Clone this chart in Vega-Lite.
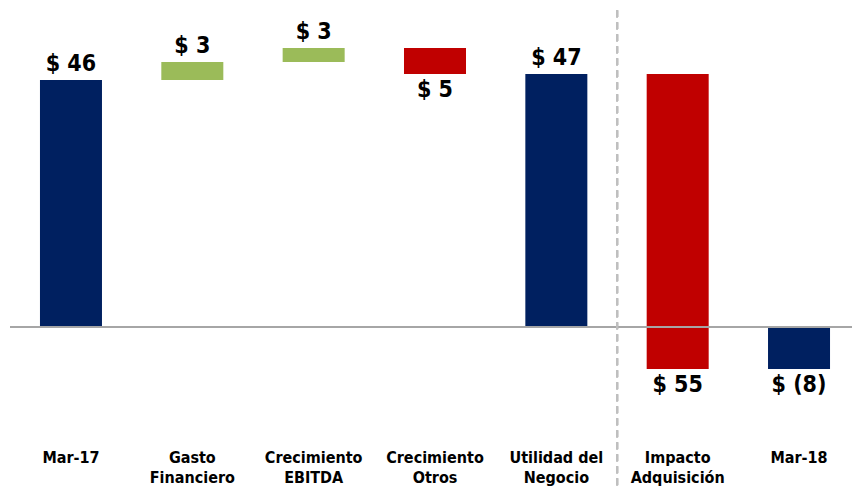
{
  "$schema": "https://vega.github.io/schema/vega-lite/v6.json",
  "width": 842,
  "height": 440,
  "padding": {"left": 10, "top": 0, "right": 0, "bottom": 48},
  "autosize": {"type": "none"},
  "background": "white",
  "config": {"view": {"stroke": null}, "font": "DejaVu Sans Condensed"},
  "data": {
    "values": [
      {"cat": "Mar-17", "start": 0, "end": 46, "kind": "total", "label": "$ 46"},
      {"cat": "Gasto Financiero", "start": 46, "end": 49.35, "kind": "up", "label": "$ 3"},
      {"cat": "Crecimiento EBITDA", "start": 49.35, "end": 51.96, "kind": "up", "label": "$ 3"},
      {"cat": "Crecimiento Otros", "start": 51.96, "end": 47.1, "kind": "down", "label": "$ 5"},
      {"cat": "Utilidad del Negocio", "start": 0, "end": 47.1, "kind": "total", "label": "$ 47"},
      {"cat": "Impacto Adquisición", "start": 47.1, "end": -7.82, "kind": "down", "label": "$ 55"},
      {"cat": "Mar-18", "start": 0, "end": -7.82, "kind": "total", "label": "$ (8)"}
    ]
  },
  "layer": [
    {
      "mark": {"type": "bar"},
      "encoding": {
        "x": {
          "field": "cat",
          "type": "nominal",
          "sort": null,
          "scale": {"range": [0, 850], "paddingInner": 0.489, "paddingOuter": 0.247},
          "axis": {
            "title": null,
            "domain": false,
            "ticks": false,
            "labelAngle": 0,
            "labelFont": "DejaVu Sans Condensed",
            "labelFontWeight": "bold",
            "labelFontSize": 16,
            "labelColor": "#000000",
            "labelPadding": 9,
            "labelLineHeight": 20,
            "labelBaseline": "top",
            "labelExpr": "datum.value == 'Utilidad del Negocio' ? ['Utilidad del', 'Negocio'] : split(datum.value, ' ')"
          }
        },
        "y": {
          "field": "start",
          "type": "quantitative",
          "scale": {"domain": [-21.04, 60.9], "nice": false, "zero": false},
          "axis": null
        },
        "y2": {"field": "end"},
        "color": {
          "field": "kind",
          "type": "nominal",
          "scale": {"domain": ["total", "up", "down"], "range": ["#002060", "#9BBB59", "#C00000"]},
          "legend": null
        }
      }
    },
    {
      "mark": {"type": "rule", "color": "#A6A6A6", "strokeWidth": 1},
      "encoding": {"y": {"datum": 0}}
    },
    {
      "mark": {"type": "rule", "strokeDash": [7, 5], "strokeWidth": 2, "color": "#BFBFBF"},
      "encoding": {
        "x": {"datum": "Utilidad del Negocio", "bandPosition": 1.48},
        "y": {"datum": 59},
        "y2": {"datum": -30}
      }
    },
    {
      "transform": [{"filter": "datum.end >= datum.start"}],
      "mark": {"type": "text", "baseline": "bottom", "dy": -4, "fontSize": 23, "fontWeight": "bold", "color": "#000000", "font": "DejaVu Sans Condensed"},
      "encoding": {
        "x": {"field": "cat", "type": "nominal", "sort": null},
        "y": {"field": "end", "type": "quantitative"},
        "text": {"field": "label"}
      }
    },
    {
      "transform": [{"filter": "datum.end < datum.start"}],
      "mark": {"type": "text", "baseline": "top", "dy": 5, "fontSize": 23, "fontWeight": "bold", "color": "#000000", "font": "DejaVu Sans Condensed"},
      "encoding": {
        "x": {"field": "cat", "type": "nominal", "sort": null},
        "y": {"field": "end", "type": "quantitative"},
        "text": {"field": "label"}
      }
    }
  ]
}
